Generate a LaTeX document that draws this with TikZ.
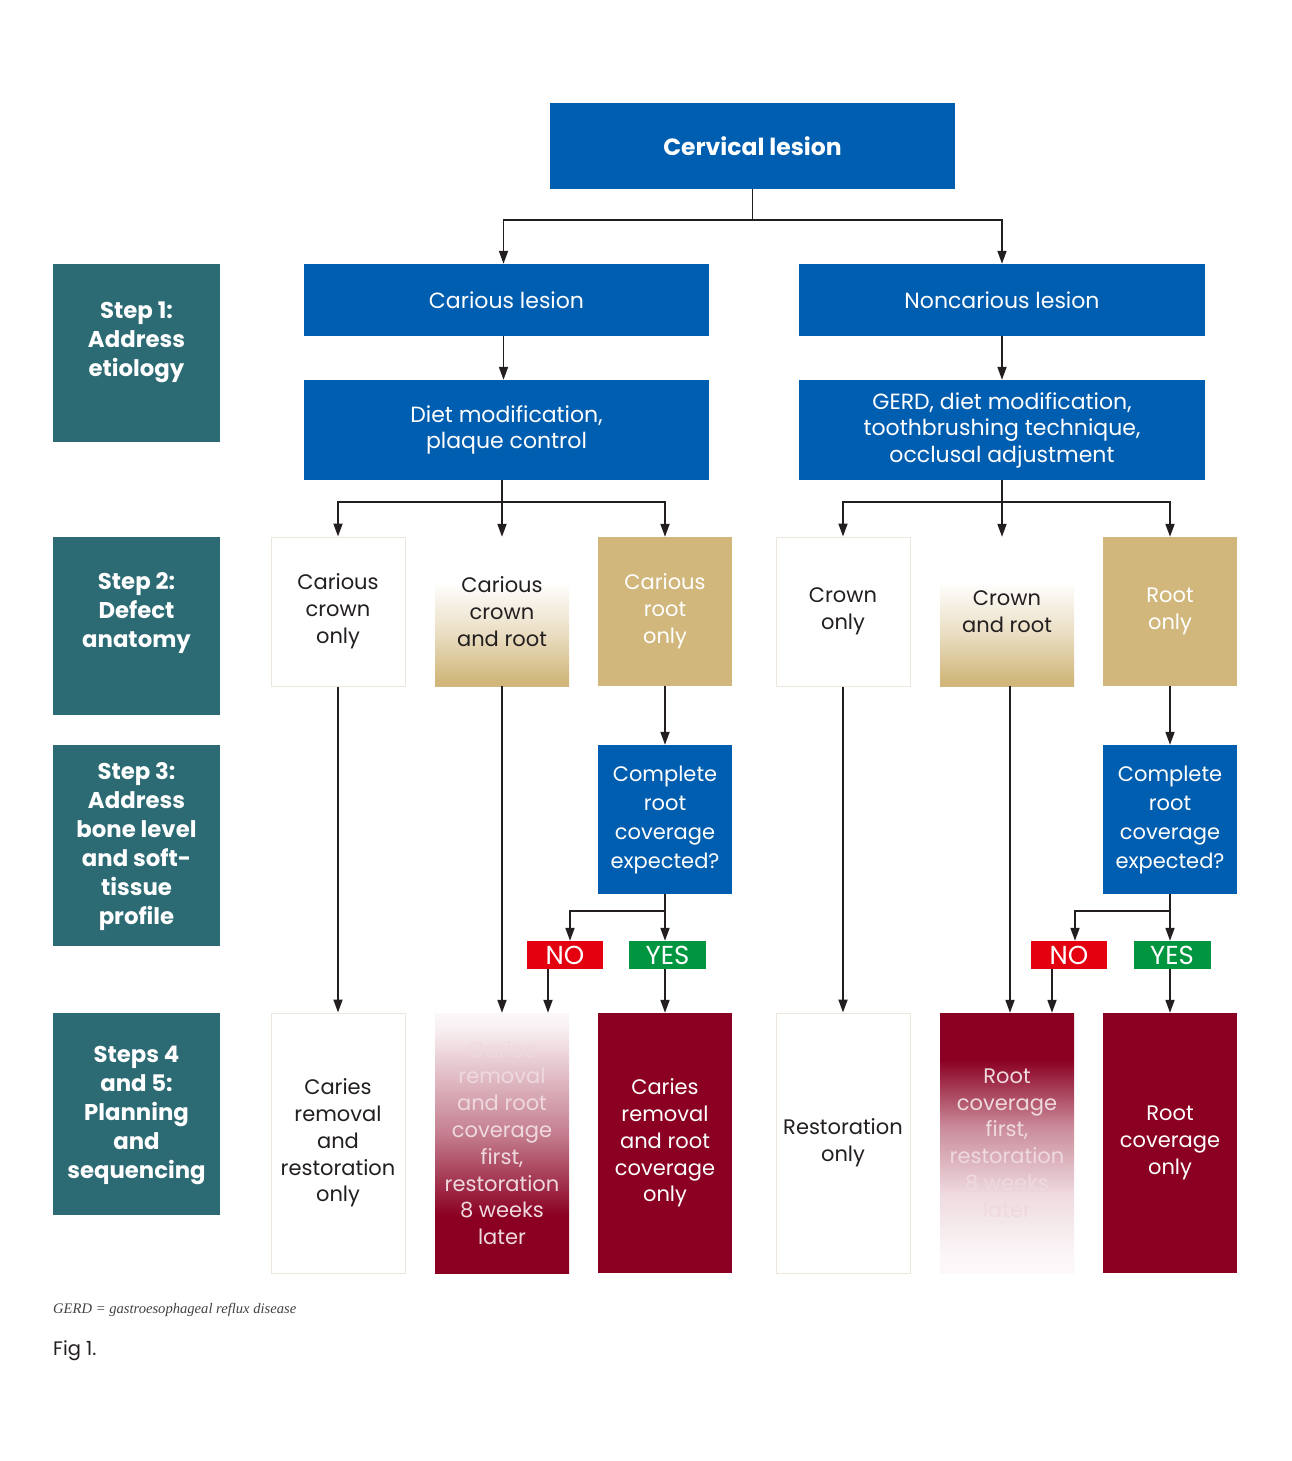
\documentclass[tikz,border=0pt]{standalone}
\usepackage{fontspec}
\setmainfont{Poppins}
\newfontfamily\notefont{Liberation Serif}
\usetikzlibrary{arrows.meta,shadings}

\definecolor{cblue}{RGB}{0,94,176}
\definecolor{cteal}{RGB}{44,107,116}
\definecolor{cgold}{RGB}{209,183,124}
\definecolor{ccrim}{RGB}{139,0,34}
\definecolor{cred}{RGB}{227,0,15}
\definecolor{cgreen}{RGB}{0,150,63}
\definecolor{cline}{RGB}{35,31,32}
\definecolor{cborder}{RGB}{236,230,222}

\pgfdeclareverticalshading{goldfade}{100bp}{color(0bp)=(cgold); color(27bp)=(cgold); color(43bp)=(cgold!45); color(60bp)=(white); color(100bp)=(white)}
\pgfdeclareverticalshading{crimup}{100bp}{color(0bp)=(ccrim); color(36bp)=(ccrim); color(52bp)=(ccrim!50); color(72bp)=(ccrim!6); color(75bp)=(ccrim!3); color(100bp)=(ccrim!3)}
\pgfdeclareverticalshading{crimdown}{100bp}{color(0bp)=(ccrim!3); color(28bp)=(ccrim!3); color(40bp)=(ccrim!14); color(53bp)=(ccrim!45); color(66bp)=(ccrim); color(100bp)=(ccrim)}

\tikzset{
  box/.style={inner sep=0pt, align=center, font=\fontsize{21}{27}\selectfont},
  bluebox/.style={box, fill=cblue, text=white},
  wide/.style={font=\fontsize{22}{26.5}\selectfont},
  whitebox/.style={box, fill=white, draw=cborder, line width=1pt, text=cline},
  goldbox/.style={box, fill=cgold, text=white},
  crimbox/.style={box, fill=ccrim, text=white},
  stepbox/.style={fill=cteal, inner sep=0pt, minimum width=167pt},
  steptext/.style={align=center, text=white, font=\bfseries\fontsize{22.8}{29}\selectfont},
  tagbox/.style={inner sep=0pt, minimum width=76pt, minimum height=28pt, text=white, font=\fontsize{26}{28}\selectfont},
  ln/.style={draw=cline, line width=1.8pt},
  arr/.style={ln, -{Triangle[length=13pt,width=9pt]}},
  rowtwo/.style={minimum width=134pt, minimum height=149pt},
  rowfour/.style={minimum width=134pt, minimum height=260pt, font=\fontsize{21}{26.8}\selectfont},
}

\begin{document}
\begin{tikzpicture}[x=1pt,y=-1pt]
\useasboundingbox (0,0) rectangle (1291,1461);

% step labels
\node[stepbox, minimum height=178pt] (s1) at (136.5,353) {};
\node[steptext] (s1t) at (136.5,342) {Step 1:\\Address\\etiology};
\node[stepbox, minimum height=178pt] (s2) at (136.5,626) {};
\node[steptext] (s2t) at (136.5,613) {Step 2:\\Defect\\anatomy};
\node[stepbox, minimum height=201pt] (s3) at (136.5,845.5) {};
\node[steptext] (s3t) at (136.5,847) {Step 3:\\Address\\bone level\\and soft-\\tissue\\profile};
\node[stepbox, minimum height=202pt] (s4) at (136.5,1114) {};
\node[steptext] (s4t) at (136.5,1115) {Steps 4\\and 5:\\Planning\\and\\sequencing};

% top
\node[bluebox, minimum width=405pt, minimum height=86pt, font=\bfseries\fontsize{23.5}{27}\selectfont] (cerv) at (752.5,146) {Cervical lesion};
\node[bluebox, wide, minimum width=405pt, minimum height=72pt] (car) at (506.5,300) {Carious lesion};
\node[bluebox, wide, minimum width=406pt, minimum height=72pt] (nonc) at (1002,300) {Noncarious lesion};
\node[bluebox, wide, minimum width=405pt, minimum height=100pt] (diet) at (506.5,430) {Diet modification,\\plaque control};
\node[bluebox, wide, minimum width=406pt, minimum height=100pt] (gerd) at (1002,430) {GERD, diet modification,\\toothbrushing technique,\\occlusal adjustment};

% row 2
\node[whitebox, rowtwo] (c1) at (338,611.5) {Carious\\crown\\only};
\node[box, rowtwo, shading=goldfade, text=cline] (c2) at (502,611.5) {Carious\\crown\\and root};
\node[goldbox, rowtwo] (c3) at (665,611.5) {Carious\\root\\only};
\node[whitebox, rowtwo] (c4) at (843,611.5) {Crown\\only};
\node[box, rowtwo, shading=goldfade, text=cline] (c5) at (1007,611.5) {Crown\\and root};
\node[goldbox, rowtwo] (c6) at (1170,611.5) {Root\\only};

% row 3
\node[bluebox, rowtwo, font=\fontsize{21}{29}\selectfont] (q1) at (665,819.5) {Complete\\root\\coverage\\expected?};
\node[bluebox, rowtwo, font=\fontsize{21}{29}\selectfont] (q2) at (1170,819.5) {Complete\\root\\coverage\\expected?};
\node[tagbox, fill=cred] (no1) at (565,955) {NO};
\node[tagbox, fill=cgreen, minimum width=77pt] (yes1) at (667.5,955) {YES};
\node[tagbox, fill=cred] (no2) at (1069,955) {NO};
\node[tagbox, fill=cgreen, minimum width=77pt] (yes2) at (1172,955) {YES};

% row 4
\node[whitebox, rowfour] (b1) at (338,1143) {Caries\\removal\\and\\restoration\\only};
\node[box, rowfour, shading=crimup, text=white!85!ccrim] (b2) at (502,1143) {Caries\\removal\\and root\\coverage\\first,\\restoration\\8 weeks\\later};
\node[crimbox, rowfour] (b3) at (665,1143) {Caries\\removal\\and root\\coverage\\only};
\node[whitebox, rowfour] (b4) at (843,1143) {Restoration\\only};
\node[box, rowfour, shading=crimdown, text=white!85!ccrim] (b5) at (1007,1143) {Root\\coverage\\first,\\restoration\\8 weeks\\later};
\node[crimbox, rowfour] (b6) at (1170,1143) {Root\\coverage\\only};

% notes
\node[anchor=west, inner sep=0pt, text=cline!85, font=\notefont\itshape\fontsize{14.6}{16}\selectfont] (fn) at (53,1310) {GERD = gastroesophageal reflux disease};
\node[anchor=west, inner sep=0pt, text=cline, font=\fontsize{19.5}{20}\selectfont] (fig) at (53,1351) {Fig 1.};

% connectors
\draw[ln] (cerv.south) -- ++(0,31) coordinate (j0);
\draw[arr] (j0) -| ([xshift=-3pt]car.north);
\draw[arr] (j0) -| (nonc.north);
\draw[arr] ([xshift=-3pt]car.south) -- ([xshift=-3pt]diet.north);
\draw[arr] (nonc) -- (gerd);

\draw[ln] (diet.south -| c2.north) -- ++(0,22) coordinate (j1);
\draw[arr] (j1) -| (c1.north);
\draw[arr] (j1) -- (c2.north);
\draw[arr] (j1) -| (c3.north);
\draw[ln] (gerd.south) -- ++(0,22) coordinate (j2);
\draw[arr] (j2) -| (c4.north);
\draw[arr] (j2) -- (j2 |- c5.north);
\draw[arr] (j2) -| (c6.north);

\draw[arr] (c1) -- (b1);
\draw[arr] (c2) -- (b2);
\draw[arr] (c3) -- (q1);
\draw[arr] (c4) -- (b4);
\draw[arr] ([xshift=3pt]c5.south) -- ([xshift=3pt]b5.north);
\draw[arr] (c6) -- (q2);

\draw[ln] (q1.south) -- ++(0,17) coordinate (j3);
\draw[arr] (j3) -| ([xshift=5pt]no1.north);
\draw[arr] (q1.south) -- (q1.south |- yes1.north);
\draw[arr] ([xshift=-17pt]no1.south) -- ([xshift=-17pt]no1.south |- b2.north);
\draw[arr] (yes1.south -| b3.north) -- (b3.north);

\draw[ln] (q2.south) -- ++(0,17) coordinate (j4);
\draw[arr] (j4) -| ([xshift=6pt]no2.north);
\draw[arr] (q2.south) -- (q2.south |- yes2.north);
\draw[arr] ([xshift=-17pt]no2.south) -- ([xshift=-17pt]no2.south |- b5.north);
\draw[arr] (yes2.south -| b6.north) -- (b6.north);
\end{tikzpicture}
\end{document}
